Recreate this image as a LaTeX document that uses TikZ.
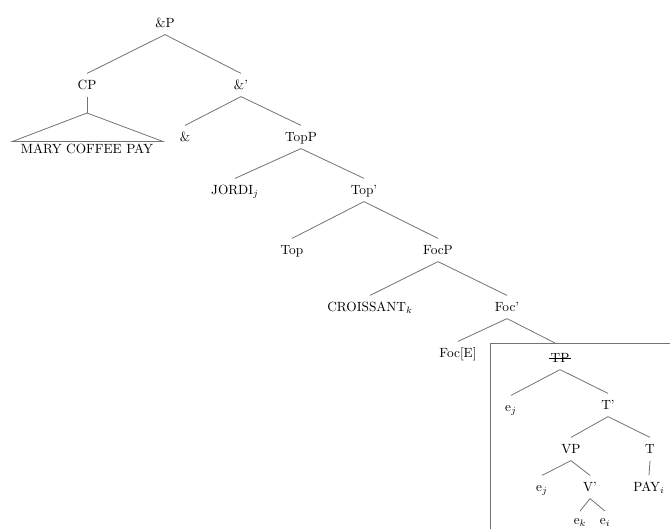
\documentclass[tikz,border=0pt]{standalone}
\begin{document}
\begin{tikzpicture}[x=0.75pt, y=-0.75pt]
    \tikzstyle{lbl} = [inner xsep=1pt, inner ysep=5pt, text height=7pt,
        text depth=0pt, font=\normalsize]
    \tikzstyle{branch} = [draw=black!55, line width=0.6pt]

    \useasboundingbox (0,0) rectangle (670,529);

    \node(andp) [lbl] at (165,23) {\&P};
    \node(cp) [lbl] at (87,85) {CP};
    \node(andbar) [lbl] at (241,85) {\&'};
    \node(mary) [lbl, inner ysep=2pt] at (87,149) {MARY COFFEE PAY};
    \node(amp) [lbl] at (185,137) {\&};
    \node(topp) [lbl] at (301,137) {TopP};
    \node(jordi) [lbl] at (235,190) {JORDI$_j$};
    \node(topbar) [lbl] at (364,190) {Top'};
    \node(top) [lbl] at (292,250) {Top};
    \node(focp) [lbl] at (438,250) {FocP};
    \node(croissant) [lbl] at (370,307) {CROISSANT$_k$};
    \node(focbar) [lbl] at (507,307) {Foc'};
    \node(foce) [lbl] at (458,353) {Foc[E]};
    \node(tp) [lbl] at (560,358) {TP};
    \node(ej) [lbl] at (511,407) {e$_j$};
    \node(tbar) [lbl] at (608,405) {T'};
    \node(vp) [lbl] at (571,449) {VP};
    \node(t) [lbl] at (650,449) {T};
    \node(ejv) [lbl] at (542,487) {e$_j$};
    \node(vbar) [lbl] at (590,487) {V'};
    \node(pay) [lbl] at (649,487) {PAY$_i$};
    \node(ek) [lbl, inner ysep=3pt] at (580,520) {e$_k$};
    \node(ei) [lbl, inner ysep=3pt] at (605,520) {e$_i$};

    \coordinate(cpapex) at (87,113);
    \coordinate(boxcut) at (555,343);
    \coordinate(boxbl) at (490,529);
    \coordinate(boxtl) at (490,343);
    \coordinate(boxtr) at (670,343);

    % upper spine
    \draw[branch] (andp.south) -- (cp.north);
    \draw[branch] (andp.south) -- (andbar.north);
    \draw[branch] (cp.south) -- (cpapex);
    \draw[branch] (cpapex) -- ([xshift=-5pt]mary.north west)
        -- ([xshift=6pt]mary.north east) -- cycle;
    \draw[branch] (andbar.south) -- (amp.north);
    \draw[branch] (andbar.south) -- (topp.north);
    \draw[branch] (topp.south) -- (jordi.north);
    \draw[branch] (topp.south) -- (topbar.north);
    \draw[branch] (topbar.south) -- (top.north);
    \draw[branch] (topbar.south) -- (focp.north);
    \draw[branch] (focp.south) -- (croissant.north);
    \draw[branch] (focp.south) -- (focbar.north);
    \draw[branch] (focbar.south) -- (foce.north);
    \draw[branch] (focbar.south) -- (boxcut);

    % elided TP
    \draw[branch] (boxbl) -- (boxtl) -- (boxtr);
    \draw[line width=0.5pt] ([yshift=3.2pt]tp.base west)
        -- ([yshift=3.2pt]tp.base east);
    \draw[branch] (tp.south) -- (ej.north);
    \draw[branch] (tp.south) -- (tbar.north);
    \draw[branch] (tbar.south) -- (vp.north);
    \draw[branch] (tbar.south) -- (t.north);
    \draw[branch] (vp.south) -- (ejv.north);
    \draw[branch] (vp.south) -- (vbar.north);
    \draw[branch] (t.south) -- (pay.north);
    \draw[branch] (vbar.south) -- (ek.north);
    \draw[branch] (vbar.south) -- (ei.north);
\end{tikzpicture}
\end{document}
